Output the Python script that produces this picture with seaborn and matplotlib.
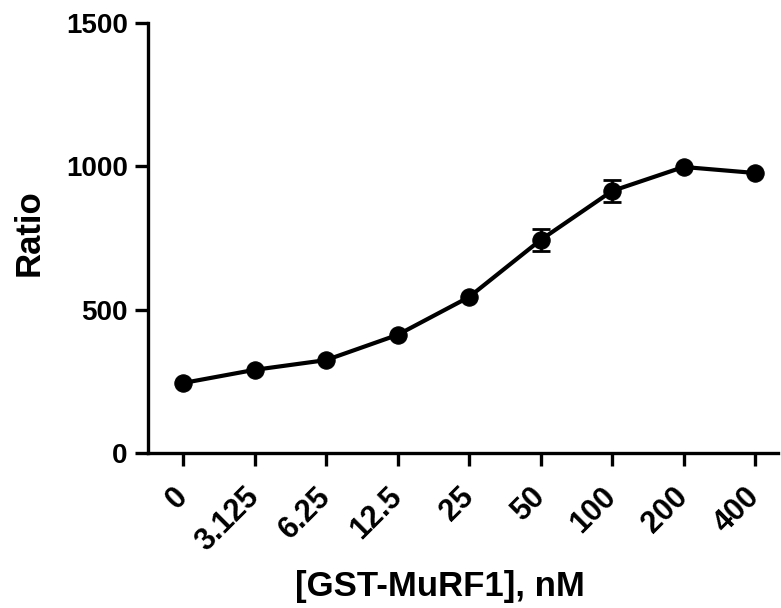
import matplotlib
matplotlib.use("Agg")
import matplotlib.pyplot as plt
import seaborn as sns
import pandas as pd
import numpy as np

concentrations = ["0", "3.125", "6.25", "12.5", "25", "50", "100", "200", "400"]
ratio_mean = [244, 290, 324, 412, 544, 743, 914, 998, 977]
ratio_err = [0, 0, 0, 0, 0, 38, 38, 0, 0]

sns.set_theme(style="ticks")
plt.rcParams["font.family"] = ["Liberation Sans", "DejaVu Sans"]
plt.rcParams["font.weight"] = "bold"
for key in ["text.color", "axes.labelcolor", "xtick.color", "ytick.color", "axes.edgecolor"]:
    plt.rcParams[key] = "black"

df = pd.DataFrame({"pos": np.arange(len(concentrations)), "ratio": ratio_mean, "err": ratio_err})

fig = plt.figure(figsize=(7.81, 6.08), dpi=100)
ax = fig.add_axes([0.1895, 0.255, 0.8065, 0.707])

eb = df[df["err"] > 0]
ax.errorbar(eb["pos"], eb["ratio"], yerr=eb["err"], fmt="none", ecolor="black",
            elinewidth=2, capsize=6.5, capthick=2, zorder=2)
sns.lineplot(data=df, x="pos", y="ratio", ax=ax, color="black", linewidth=3,
             marker="o", markersize=12.5, markeredgecolor="black", markerfacecolor="black",
             zorder=3)

ax.set_xlim(-0.49, 8.32)
ax.set_ylim(0, 1500)
ax.set_yticks([0, 500, 1000, 1500])
ax.set_xticks(df["pos"])
ax.set_xticklabels(concentrations, rotation=45, ha="right", va="center",
                   rotation_mode="anchor", fontsize=22, fontweight="bold")
for lab in ax.get_yticklabels():
    lab.set_fontsize(20)
    lab.set_fontweight("bold")
ax.set_xlabel("[GST-MuRF1], nM", fontsize=25, fontweight="bold")
ax.set_ylabel("Ratio", fontsize=25, fontweight="bold")
ax.xaxis.set_label_coords(0.4635, -0.272)
ax.yaxis.set_label_coords(-0.162, 0.513)

for side in ["top", "right"]:
    ax.spines[side].set_visible(False)
for side in ["left", "bottom"]:
    ax.spines[side].set_linewidth(2.4)
ax.tick_params(axis="both", width=2.4, length=9.5, color="black")
ax.tick_params(axis="y", pad=5)
ax.tick_params(axis="x", pad=19)
ax.grid(False)

fig.savefig("out.png", dpi=100)
